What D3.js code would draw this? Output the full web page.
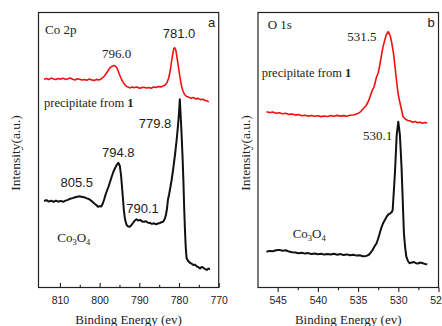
<!DOCTYPE html>
<html><head><meta charset="utf-8">
<script src="https://cdn.jsdelivr.net/npm/d3@7"></script>
<style>body{margin:0;background:#fff}svg{display:block}</style>
</head><body>
<svg id="c" width="442" height="326"></svg>
<script>
// ---- Panel a : Co 2p ----
const coPrecE = [814.0,813.4,812.8,812.2,811.6,811.0,810.4,809.8,809.2,808.6,808.0,807.4,806.8,806.2,805.6,805.0,804.4,803.8,803.2,802.6,802.0,801.4,800.8,800.2,799.6,799.2,798.8,798.4,798.0,797.6,797.2,796.8,796.4,796.0,795.6,795.2,794.8,794.4,794.0,793.6,793.2,792.8,792.4,791.8,791.2,790.6,790.0,789.4,788.8,788.2,787.6,787.0,786.4,785.8,785.2,784.6,784.0,783.5,783.0,782.6,782.2,781.9,781.6,781.3,781.1,780.8,780.5,780.2,779.9,779.6,779.3,779.0,778.6,778.1,777.6,777.0,776.4,775.8,775.2,774.6,774.0,773.4,772.9,772.5];
const coPrecI = [208.3,209.1,208.0,209.4,208.6,207.9,209.0,208.4,209.3,208.1,208.8,209.5,208.2,207.6,208.7,208.3,207.4,208.1,207.3,208.4,207.6,207.0,208.1,207.5,208.6,210.0,211.5,213.8,216.0,218.6,220.4,221.3,221.9,221.2,219.2,215.0,211.0,207.5,204.8,202.6,201.0,200.4,199.6,200.4,199.9,200.6,199.3,199.9,200.3,199.4,200.1,199.2,200.5,200.0,200.9,200.6,201.6,202.5,205.0,209.5,217.0,225.5,233.0,239.0,239.8,237.5,230.0,222.0,214.0,206.5,200.5,196.5,193.0,191.0,190.4,189.2,190.0,188.6,189.1,187.9,188.3,187.0,186.4,185.8];
const coOxE = [814.0,813.4,812.8,812.2,811.6,811.0,810.4,809.8,809.2,808.6,808.0,807.4,806.8,806.2,805.6,805.0,804.4,803.8,803.2,802.6,802.0,801.4,800.8,800.4,800.0,799.6,799.2,798.9,798.5,797.8,797.3,796.9,796.5,796.1,795.7,795.3,794.9,794.6,794.4,794.1,793.9,793.6,793.2,792.8,792.4,792.0,791.6,791.2,790.7,790.3,789.8,789.3,788.8,788.3,787.8,787.3,786.8,786.3,785.8,785.3,784.8,784.4,784.0,783.6,783.3,783.0,782.8,782.5,782.3,781.9,781.5,781.0,780.6,780.3,780.1,779.9,779.8,779.6,779.4,779.1,778.9,778.7,778.5,778.3,778.1,777.7,777.2,776.8,776.4,776.0,775.5,775.1,774.7,774.3,773.9,773.5,773.0,772.6,772.2];
const coOxI = [86.5,87.4,85.9,86.8,85.6,86.9,85.8,86.6,85.7,86.9,87.6,88.8,89.4,90.3,90.8,91.3,90.4,90.2,89.1,88.2,86.4,84.2,82.3,80.6,81.4,81.0,84.0,87.5,93.0,100.5,106.5,111.5,116.0,119.5,122.5,124.8,121.5,112.0,102.5,88.0,77.5,68.0,62.5,61.0,60.8,62.4,64.5,66.8,68.2,67.0,67.6,66.1,65.7,66.3,64.8,64.5,63.6,64.2,63.2,64.0,64.5,65.3,65.8,68.5,72.5,79.5,87.5,93.0,97.5,106.5,117.5,133.0,147.5,160.0,169.5,181.0,188.2,173.0,157.5,130.0,107.5,80.0,57.5,40.0,29.5,26.5,24.5,23.8,22.5,22.9,21.0,20.3,19.0,20.6,19.8,18.6,17.5,18.9,18.3];
const coTicks = [810,800,790,780,770];
const coMinor = [805,795,785,775];
const coPeaks = ["796.0","781.0","779.8","794.8","805.5","790.1"];

// ---- Panel b : O 1s ----
const oPrecE = [546.4,546.0,545.6,545.2,544.8,544.4,544.0,543.6,543.2,542.8,542.4,542.0,541.6,541.2,540.8,540.4,540.0,539.6,539.2,538.8,538.4,538.0,537.6,537.2,536.8,536.4,536.0,535.6,535.2,534.8,534.4,534.0,533.7,533.3,533.0,532.7,532.5,532.3,532.1,531.9,531.7,531.5,531.25,531.0,530.8,530.6,530.45,530.3,530.15,530.0,529.8,529.65,529.4,529.1,528.8,528.5,528.2,527.9,527.6,527.3,527.0,526.7,526.4];
const oPrecI = [175.8,175.0,175.4,174.3,174.7,173.8,174.2,173.1,173.5,172.4,172.9,171.8,172.3,171.4,172.0,171.2,171.7,170.9,171.5,171.0,171.9,171.3,172.1,171.4,171.9,171.3,172.2,172.5,173.4,175.0,178.5,182.0,186.5,195.8,201.0,210.8,214.5,222.5,232.0,240.8,247.0,252.5,255.8,251.5,244.0,234.2,224.0,212.5,202.0,192.5,185.0,179.5,170.8,168.2,167.0,166.5,165.2,166.0,164.8,165.4,164.2,165.0,164.6];
const oOxE = [546.4,546.0,545.6,545.2,544.8,544.4,544.0,543.6,543.2,542.8,542.4,542.0,541.6,541.2,540.8,540.4,540.0,539.6,539.2,538.8,538.4,538.0,537.6,537.2,536.8,536.4,536.0,535.6,535.2,534.8,534.4,534.0,533.7,533.5,533.2,533.0,532.7,532.5,532.3,532.1,531.9,531.6,531.4,531.2,531.0,530.8,530.7,530.55,530.4,530.3,530.2,530.0,529.8,529.7,529.6,529.45,529.3,529.15,529.0,528.8,528.6,528.3,528.05,527.8,527.55,527.3,527.05,526.7,526.4];
const oOxI = [35.8,36.6,36.2,37.3,37.6,36.8,37.2,35.9,35.3,35.0,34.3,34.7,33.9,34.4,33.5,34.0,33.2,33.8,32.9,33.5,33.0,33.7,32.8,33.4,32.5,33.1,32.2,32.8,31.9,32.3,31.2,31.6,32.5,34.2,37.5,40.5,44.2,49.0,54.5,60.0,64.2,68.5,71.5,73.2,74.2,75.6,77.5,97.0,117.5,135.0,152.5,165.8,152.5,137.0,120.8,87.5,54.2,40.0,30.8,26.5,24.2,25.1,25.5,24.3,24.0,24.9,24.5,23.6,23.2];
const oTicks = [545,540,535,530,525];
const oMinor = [542.5,537.5,532.5,527.5];
const oPeaks = ["531.5","530.1"];

const svg = d3.select("#c");
const TOP = 12.5, BOT = 287.5;
const y = d3.scaleLinear().domain([0, 275]).range([BOT, TOP]);
const serif = "'Liberation Serif','Times New Roman',serif";
const sans = "'Liberation Sans',Arial,sans-serif";

function zip(E, I){ return E.map((e,i)=>[e, I[i]]); }

function panel(opt){
  const x = d3.scaleLinear().domain(opt.domain).range(opt.range);
  const g = svg.append("g");
  const line = d3.line().x(d=>x(d[0])).y(d=>y(d[1]));
  g.append("path").datum(zip(opt.precE,opt.precI)).attr("d",line)
    .attr("fill","none").attr("stroke","#f01010").attr("stroke-width",1.6).attr("stroke-linejoin","round");
  g.append("path").datum(zip(opt.oxE,opt.oxI)).attr("d",line)
    .attr("fill","none").attr("stroke","#111").attr("stroke-width",2).attr("stroke-linejoin","round");
  g.append("rect").attr("x",opt.range[0]).attr("y",TOP)
    .attr("width",opt.range[1]-opt.range[0]).attr("height",BOT-TOP)
    .attr("fill","none").attr("stroke","#222").attr("stroke-width",1.2);
  const dir = opt.inward ? -1 : 1;
  const ax = g.append("g").attr("transform",`translate(0,${BOT})`)
    .call(d3.axisBottom(x).tickValues(opt.ticks).tickFormat(d3.format("d")).tickSize(dir*4.5).tickSizeOuter(0));
  ax.select(".domain").remove();
  ax.selectAll("line").attr("stroke","#222").attr("stroke-width",1.1);
  ax.selectAll("text").attr("y", 16.2).attr("dy",0).attr("font-family",sans).attr("font-size",10.5).attr("fill","#222");
  const mx = g.append("g").attr("transform",`translate(0,${BOT})`)
    .call(d3.axisBottom(x).tickValues(opt.minor).tickFormat("").tickSize(dir*2.8).tickSizeOuter(0));
  mx.select(".domain").remove();
  mx.selectAll("line").attr("stroke","#222").attr("stroke-width",1.1);
  const cx = (opt.range[0]+opt.range[1])/2;
  svg.append("text").attr("x",cx).attr("y",323.5).attr("text-anchor","middle")
    .attr("font-family",serif).attr("font-size",13).attr("fill","#222").text("Binding Energy (ev)");
  svg.append("text").attr("transform",`translate(${opt.ylabX},153) rotate(-90)`).attr("text-anchor","middle")
    .attr("font-family",serif).attr("font-size",13.5).attr("fill","#222").text("Intensity(a.u.)");
  return x;
}

panel({domain:[815.4,770], range:[38.5,218.7], ticks:coTicks, minor:coMinor, inward:true,
  precE:coPrecE, precI:coPrecI, oxE:coOxE, oxI:coOxI, ylabX:19.5});
panel({domain:[547.45,525], range:[258,438.5], ticks:oTicks, minor:oMinor, inward:false,
  precE:oPrecE, precI:oPrecI, oxE:oOxE, oxI:oOxI, ylabX:249.5});

function txt(x, yy, s, fam, size, anchor){
  return svg.append("text").attr("x",x).attr("y",yy).attr("font-family",fam)
    .attr("font-size",size).attr("fill","#222").attr("text-anchor",anchor||"start").text(s);
}
function precip(x, yy){
  const t = svg.append("text").attr("x",x).attr("y",yy).attr("font-family",serif)
    .attr("font-size",12.5).attr("fill","#222");
  t.append("tspan").text("precipitate from ");
  t.append("tspan").attr("font-weight","bold").text("1");
}
function co3o4(x, yy){
  const t = svg.append("text").attr("x",x).attr("y",yy).attr("font-family",serif)
    .attr("font-size",13).attr("fill","#222");
  t.append("tspan").text("Co");
  t.append("tspan").attr("font-size",8.5).attr("dy",3).text("3");
  t.append("tspan").attr("dy",-3).text("O");
  t.append("tspan").attr("font-size",8.5).attr("dy",3).text("4");
}

txt(45, 33.5, "Co 2p", serif, 13);
txt(208, 26.5, "a", sans, 13);
txt(116.7, 58.3, coPeaks[0], serif, 13, "middle");
txt(179, 38.3, coPeaks[1], sans, 13, "middle");
txt(155, 128.3, coPeaks[2], sans, 13, "middle");
txt(118.3, 156.7, coPeaks[3], sans, 13, "middle");
txt(76.7, 187.3, coPeaks[4], sans, 13, "middle");
txt(142.5, 212.7, coPeaks[5], sans, 13, "middle");
precip(44, 106.5);
co3o4(57.3, 241.5);

txt(267.7, 28.5, "O 1s", serif, 13);
txt(427.5, 26.5, "b", sans, 13);
txt(361.8, 40.7, oPeaks[0], serif, 13, "middle");
txt(377.7, 140, oPeaks[1], serif, 13, "middle");
precip(261.7, 77);
co3o4(292.7, 238);
</script>
</body></html>
